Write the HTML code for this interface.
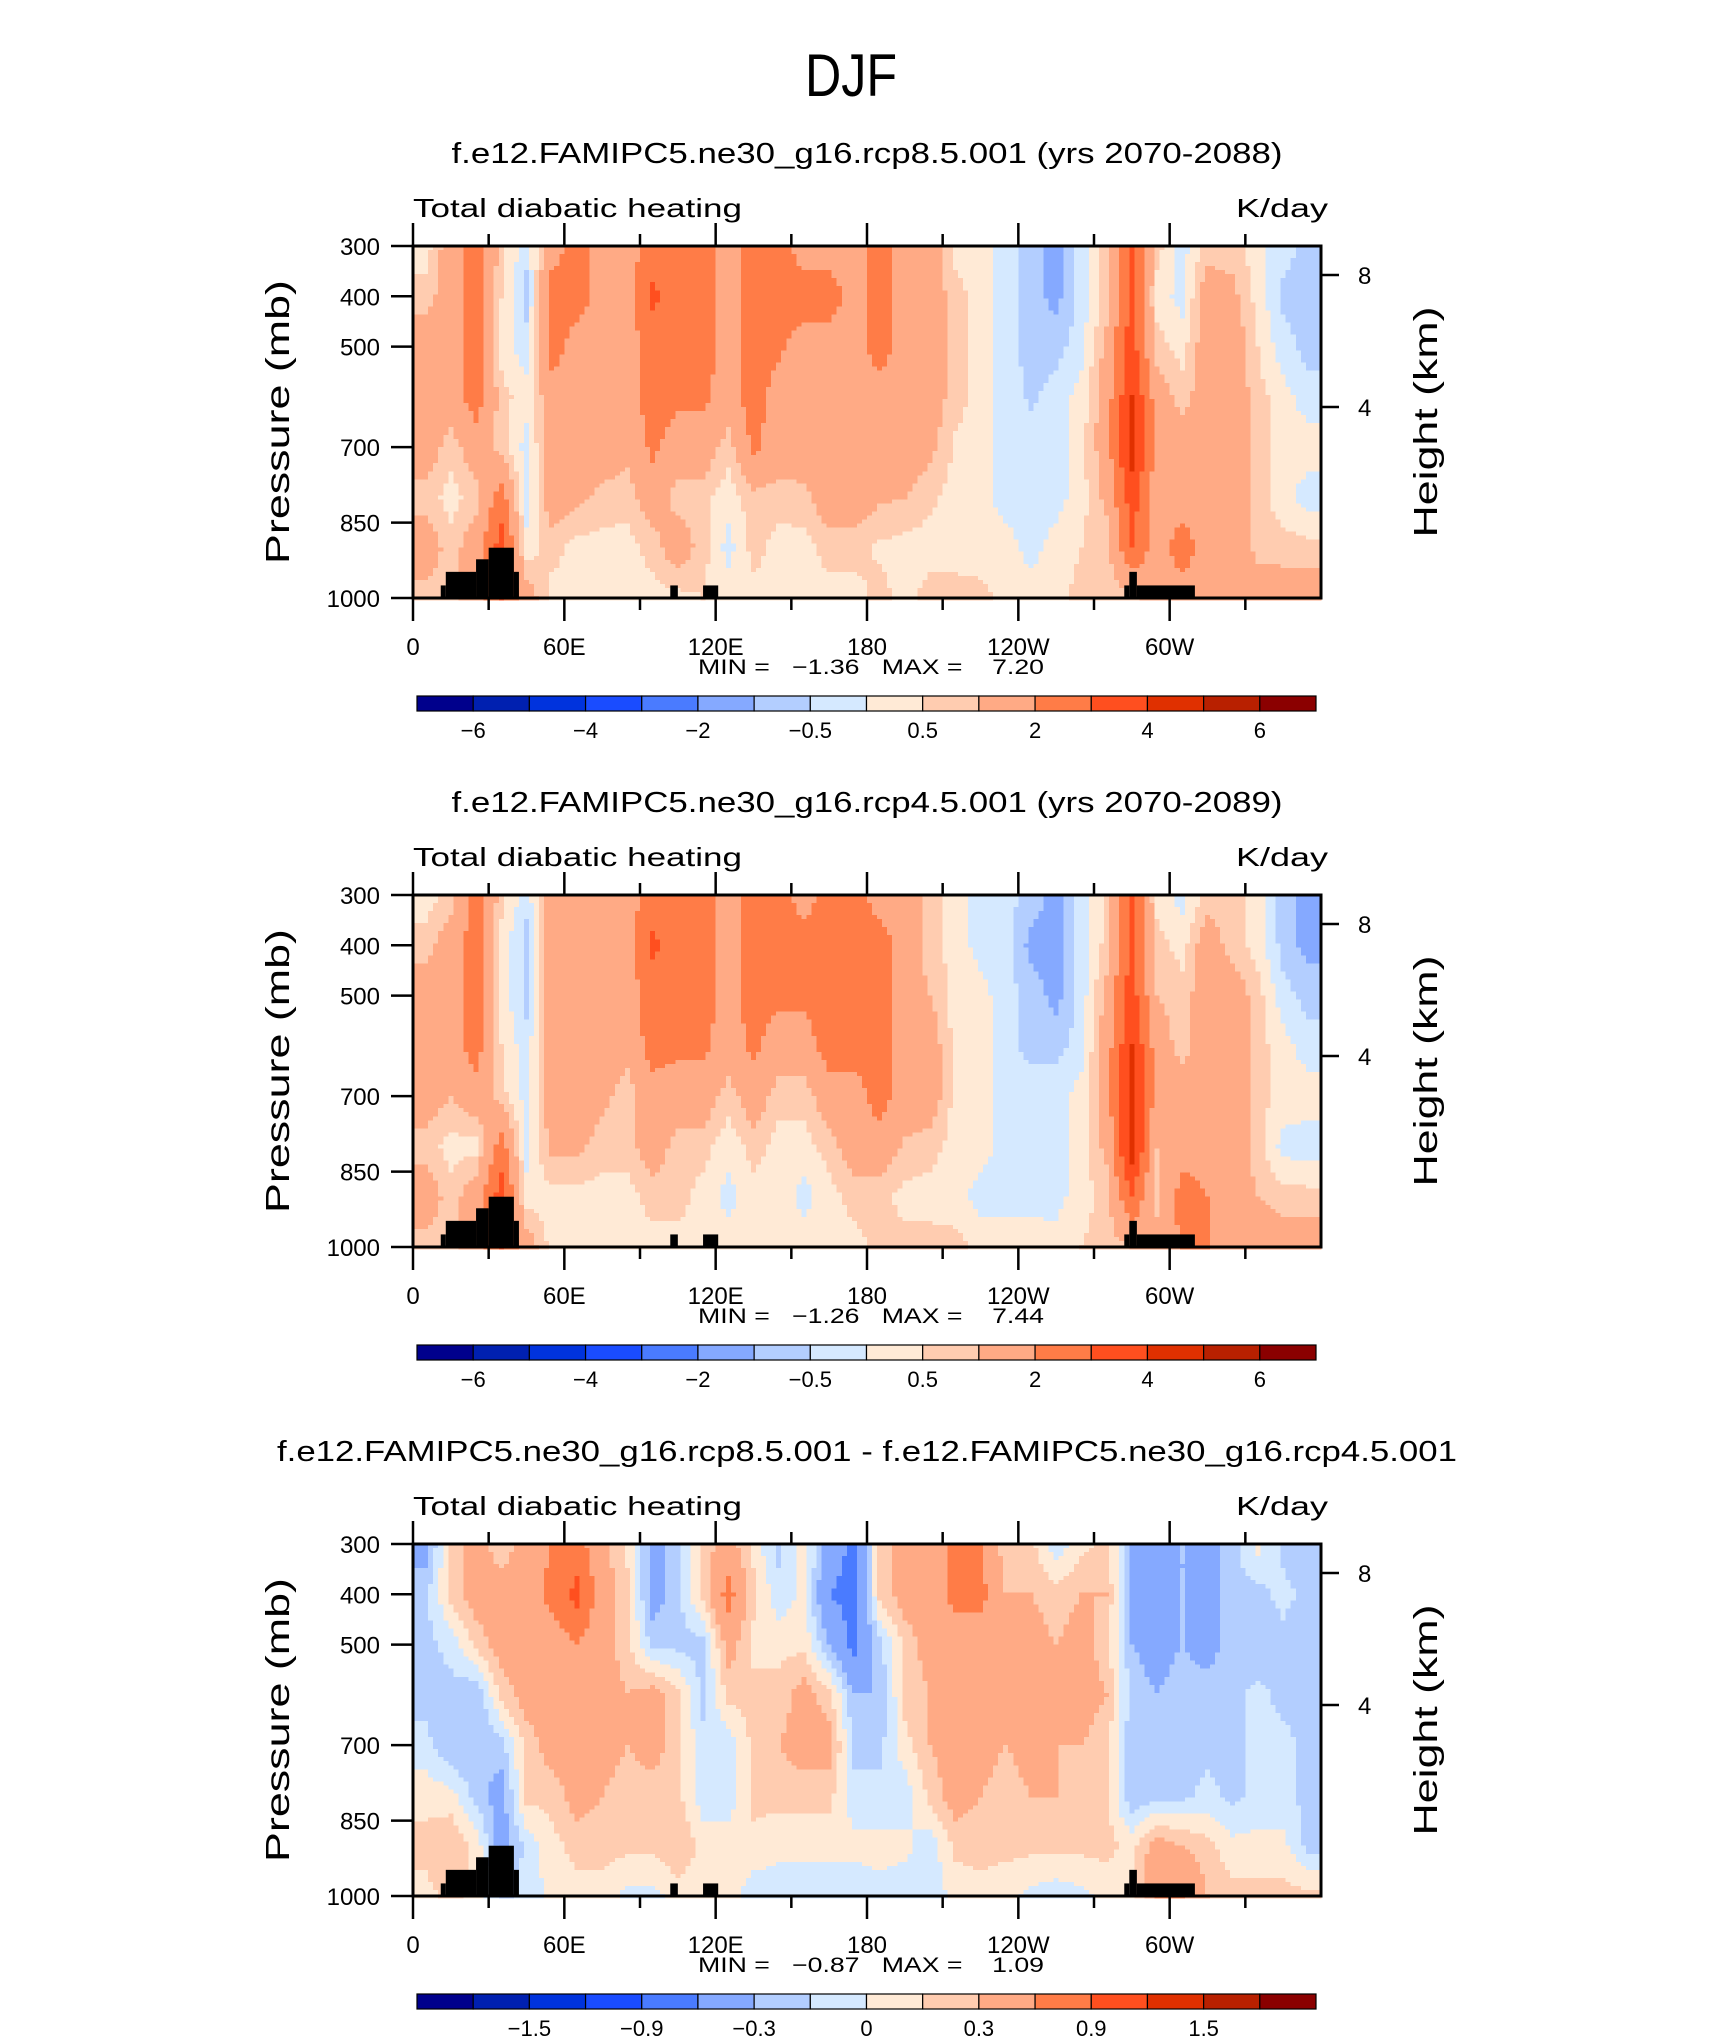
<!DOCTYPE html>
<html><head><meta charset="utf-8"><style>
html,body{margin:0;padding:0;background:#fff;}
svg{display:block;font-family:"Liberation Sans",sans-serif;}
.pre{white-space:pre;}
</style></head><body>
<svg id="fig" width="1710" height="2038" viewBox="0 0 1710 2038" xmlns="http://www.w3.org/2000/svg">
<rect x="0" y="0" width="1710" height="2038" fill="#fff"/>
<text x="851" y="96" text-anchor="middle" font-size="60" textLength="92" lengthAdjust="spacingAndGlyphs">DJF</text>
</svg>
<script>
const lonNodes=[5,15,25,35,45,55,65,75,85,95,105,115,125,135,145,155,165,175,185,195,205,215,225,235,245,255,265,275,285,295,305,315,325,335,345,355];
const presNodes=[300,400,500,600,700,800,900,1000];
const lonTicks=[0,60,120,180,240,300];
const lonTickLabels=['0','60E','120E','180','120W','60W'];
const presTicks=[300,400,500,700,850,1000];
const heightTicks=[8,4];
const levels1=[-6,-5,-4,-3,-2,-1,-0.5,0,0.5,1,2,3,4,5,6];
const levels3=[-1.8,-1.5,-1.2,-0.9,-0.6,-0.3,-0.15,0,0.15,0.3,0.6,0.9,1.2,1.5,1.8];
const cbLabels1=['−6','−4','−2','−0.5','0.5','2','4','6'];
const cbLabelIdx1=[0,2,4,6,8,10,12,14];
const cbLabels3=['−1.5','−0.9','−0.3','0','0.3','0.9','1.5'];
const cbLabelIdx3=[1,3,5,7,9,11,13];
const mountains=[[11,13,975],[13,25,948],[25,30,923],[30,40,900],[40,42,948],[102,105,975],[115,121,975],[282,284,975],[284,287,948],[287,310,975]];
const heat85=[
[0.2,0.7,1.5,1.5,1.5,0.7,1.5,0.7],[1.5,1.5,1.5,1.5,0.7,0.3,0.7,0.7],[2.5,2.5,2.5,2.5,1.5,0.7,1.5,1.5],[0.7,0.5,0.3,0.7,0.7,2.5,3.5,3],
[-0.3,-0.7,-0.3,0.2,-0.2,-0.3,0.2,1.5],[1.5,2.5,2.5,1.5,1.5,1.5,0.7,0.3],[2.5,2.5,1.5,1.5,1.5,1.2,0.3,0.3],[1.5,1.5,1.5,1.5,1.5,0.8,0.3,0.3],
[1.5,1.5,1.5,1.5,1.2,0.7,0.3,0.3],[2.5,3.2,2.5,2.5,2.2,1.5,0.7,0.3],[2.5,2.5,2.5,2.2,1.5,0.7,1.5,0.3],[2.5,2.5,2.5,2.2,1.5,0.7,0.7,0.5],
[1.5,1.5,1.5,1.5,0.7,0.2,-0.2,0.3],[2.5,2.5,2.5,2.5,2.2,0.8,0.7,0.3],[2.5,2.5,2.2,1.5,1.5,0.7,0.3,0.3],[1.5,2.5,1.5,1.5,1.5,0.8,0.3,0.3],
[1.5,2.5,1.5,1.5,1.5,1.5,0.7,0.3],[1.5,1.5,1.5,1.5,1.5,1.5,0.7,0.3],[2.5,2.5,2.5,1.5,1.5,1.1,0.4,0.7],[1.5,1.5,1.5,1.5,1.5,1.0,0.3,0.3],
[1.5,1.5,1.5,1.5,1.2,0.6,0.3,0.7],[0.3,0.7,0.7,0.7,0.4,0.3,0.3,0.7],[0.2,0.3,0.3,0.3,0.3,0.2,0.2,0.7],[-0.3,-0.3,-0.3,-0.2,-0.2,-0.2,0.2,0.3],
[-0.7,-0.7,-0.7,-0.6,-0.2,-0.2,-0.2,0.3],[-1.2,-1.2,-0.7,-0.3,-0.2,-0.2,0.2,0.3],[-0.3,-0.3,-0.2,0.2,0.3,0.3,0.5,0.7],[0.7,0.7,1.2,1.5,1.5,1.2,0.7,0.7],
[3.5,3.5,3.5,4.0,4.5,3.5,3.0,0.7],[0.7,0.3,0.7,1.5,1.5,1.5,1.5,1.5],[-0.2,-0.2,0.3,0.7,1.5,1.5,2.5,1.5],[0.7,1.5,1.5,1.5,1.5,1.5,1.5,1.5],
[0.7,1.2,1.5,1.5,1.5,1.5,1.5,1.2],[0.2,0.3,0.5,0.7,0.7,0.7,0.8,1.5],[-0.3,-0.6,-0.3,0.2,0.3,0.2,0.7,1.5],[-0.7,-0.7,-0.7,-0.3,0.3,-0.3,0.7,1.5]];
const heat45=[
[0.2,0.7,1.5,1.5,1.5,0.7,1.5,0.7],[0.7,1.5,1.5,1.5,1.0,0.3,0.7,0.7],[2.5,2.5,2.5,2.5,1.5,0.3,1.5,1.5],[0.7,0.3,0.3,0.5,0.7,2.5,3.5,3],
[-0.3,-0.7,-0.7,-0.3,-0.2,-0.2,0.2,1.5],[1.5,1.5,1.5,1.5,1.5,1.2,0.3,0.3],[1.5,1.5,1.5,1.5,1.5,1.2,0.3,0.3],[1.5,1.5,1.5,1.5,1.2,0.7,0.3,0.3],
[1.5,1.5,1.5,1.2,0.7,0.7,0.3,0.3],[2.5,3.2,2.5,2.5,1.5,1.5,0.7,0.3],[2.5,2.5,2.5,2.2,1.5,0.7,0.7,0.3],[2.5,2.5,2.5,2.2,1.5,0.7,0.3,0.3],
[1.5,1.5,1.5,1.5,0.7,0.2,-0.2,0.3],[2.5,2.5,2.5,2.2,1.5,0.7,0.3,0.3],[2.5,2.5,2.2,1.5,0.7,0.3,0.3,0.3],[1.5,2.5,2.2,1.5,0.7,0.3,-0.2,0.3],
[2.5,2.5,2.5,2.5,1.5,0.7,0.3,0.3],[2.5,2.5,2.5,2.5,1.5,1.5,0.7,0.3],[1.5,2.5,2.5,2.5,2.5,1.5,0.7,0.7],[1.5,1.5,1.5,1.5,1.5,0.9,0.3,0.7],
[0.7,0.7,1.0,1.5,1.5,0.7,0.3,0.7],[0.3,0.3,0.3,0.3,0.3,0.3,0.2,0.7],[-0.2,-0.2,0.2,0.3,0.3,0.2,-0.2,0.3],[-0.3,-0.3,-0.3,-0.3,-0.2,-0.2,-0.2,0.3],
[-0.7,-1.2,-0.7,-0.7,-0.2,-0.2,-0.2,0.3],[-1.2,-1.2,-1.2,-0.7,-0.2,-0.2,-0.2,0.2],[-0.3,-0.3,-0.3,-0.2,0.2,0.2,0.3,0.5],[0.5,0.7,1.2,1.5,1.5,1.2,0.7,0.7],
[3.5,3.5,3.5,4,4.5,4.5,3,1],[0.3,0.7,1.0,1.5,1.5,1.0,0.7,1.5],[-0.2,0.3,0.7,0.7,1.5,1.5,2.5,2],[0.7,1.5,1.5,1.5,1.5,1.5,2.0,2],
[0.7,0.7,1.5,1.5,1.5,1.5,1.5,1.5],[0.2,0.3,0.7,0.7,0.7,0.7,1.0,1.5],[-0.7,-0.7,-0.3,0.2,0.3,-0.2,0.7,1.5],[-1.2,-1.2,-0.7,-0.3,0.3,-0.3,0.7,1.5]];
const heatDiff=[
[-0.4,-0.2,-0.2,-0.2,-0.1,0.1,0.2,0.1],[0.2,0.2,-0.1,-0.2,-0.3,0.05,0.3,0.2],[0.4,0.4,0.2,-0.3,-0.3,-0.2,0.1,0.1],[0.2,0.4,0.4,0.2,-0.2,-0.4,-0.4,-0.2],
[0.4,0.4,0.4,0.4,0.2,0.2,-0.1,-0.1],[0.6,0.7,0.4,0.4,0.4,0.2,0.1,0.05],[0.7,1.0,0.6,0.4,0.4,0.4,0.2,0.1],[0.4,0.4,0.4,0.4,0.4,0.3,0.2,0.1],
[0.1,0.2,0.2,0.3,0.3,0.2,0.2,-0.05],[-0.4,-0.4,-0.2,0.4,0.4,0.2,0.2,-0.05],[-0.2,-0.2,-0.2,0.2,0.2,0.2,0.3,0.05],[0.2,0.2,-0.2,-0.2,-0.1,-0.1,0.1,0.05],
[0.4,0.7,0.4,0.2,-0.1,-0.1,0.1,0.1],[0.1,0.2,0.1,0.2,0.2,0.2,0.1,-0.1],[-0.2,-0.1,0.1,0.2,0.3,0.2,0.05,-0.1],[0.1,0.05,0.1,0.4,0.4,0.2,0.05,-0.1],
[-0.4,-0.6,-0.3,0.2,0.4,0.2,0.05,-0.1],[-0.7,-0.7,-0.7,-0.3,-0.2,-0.1,0.05,-0.1],[0.2,0.2,-0.2,-0.3,-0.2,-0.1,0.05,-0.05],[0.4,0.4,0.2,0.2,0.1,-0.1,0.05,-0.1],
[0.4,0.4,0.4,0.3,0.3,0.2,-0.1,-0.1],[0.7,0.7,0.4,0.4,0.4,0.4,0.2,0.05],[0.6,0.7,0.4,0.4,0.4,0.3,0.2,0.1],[0.2,0.3,0.4,0.4,0.3,0.2,0.2,0.05],
[0.2,0.3,0.4,0.4,0.4,0.3,0.2,-0.05],[-0.1,0.2,0.3,0.3,0.3,0.3,0.2,-0.1],[0.1,0.3,0.4,0.4,0.3,0.2,0.2,-0.05],[0.2,0.3,0.2,0.3,0.2,0.2,0.2,0.05],
[-0.3,-0.4,-0.3,-0.2,-0.3,-0.3,0.1,0.1],[-0.4,-0.6,-0.4,-0.3,-0.3,-0.2,0.4,0.6],[-0.3,-0.3,-0.3,-0.2,-0.2,-0.2,0.3,0.6],[-0.4,-0.4,-0.4,-0.2,-0.2,-0.1,0.2,0.3],
[-0.2,-0.2,-0.2,-0.2,-0.2,-0.2,0.05,0.2],[0.05,-0.2,-0.3,-0.1,-0.1,-0.1,0.05,0.2],[-0.2,-0.1,-0.2,-0.2,-0.1,-0.1,0.05,0.2],[-0.3,-0.2,-0.3,-0.2,-0.2,-0.2,-0.2,0.2]];
const palette=['#00008c','#0020b0','#0033dd','#1a4cff','#4a7bff','#85a9ff','#b3ceff','#d5e9ff','#ffead6','#ffccb0','#ffaa85','#ff7c47','#ff4f1f','#e03000','#b82000','#8b0000'];

const NS='http://www.w3.org/2000/svg';
const svg=document.getElementById('fig');
const X0=413,X1=1321,W=X1-X0,H=352;
function mk(tag,attrs,parent){const e=document.createElementNS(NS,tag);for(const k in attrs)e.setAttribute(k,attrs[k]);(parent||svg).appendChild(e);return e;}
function xOf(lon){return X0+lon/360*W;}
function yOf(T,p){return T+(p-300)/700*H;}
function sample(field,lon,p){
  let li=(lon-5)/10; li=Math.max(0,Math.min(lonNodes.length-1,li));
  let pi=(p-300)/100; pi=Math.max(0,Math.min(presNodes.length-1,pi));
  const i0=Math.min(Math.floor(li),lonNodes.length-2),j0=Math.min(Math.floor(pi),presNodes.length-2);
  const fx=li-i0,fy=pi-j0;
  const a=field[i0][j0],b=field[i0+1][j0],c=field[i0][j0+1],d=field[i0+1][j0+1];
  return a*(1-fx)*(1-fy)+b*fx*(1-fy)+c*(1-fx)*fy+d*fx*fy;
}
function colorIdx(v,levels){let k=0;while(k<levels.length&&v>=levels[k])k++;return k;}

function panel(T,field,levels,cbLabels,cbIdx,title,titleLen,minmax,key){
  const g=mk('g',{});
  
  
  const t=mk('text',{x:867,y:T-83,'text-anchor':'middle','font-size':29,textLength:titleLen,lengthAdjust:'spacingAndGlyphs'},g);
  
  
  t.textContent=title;
  const lt=mk('text',{x:413,y:T-29,'font-size':26,textLength:329,lengthAdjust:'spacingAndGlyphs'},g);
  
  
  lt.textContent='Total diabatic heating';
  const rt=mk('text',{x:1328,y:T-29,'font-size':26,'text-anchor':'end',textLength:92,lengthAdjust:'spacingAndGlyphs'},g);
  
  
  rt.textContent='K/day';
  const cg=mk('g',{'shape-rendering':'crispEdges'},g);
  
  
  const dl=2,dp=8;
  for(let p=300;p<1000;p+=dp){
    let runStart=0,runCol=-1;
    for(let lon=0;lon<=360;lon+=dl){
      let ci=-1;
      if(lon<360){ci=colorIdx(sample(field,lon+dl/2,p+dp/2),levels);}
      if(ci!==runCol){
        if(runCol>=0){
          const r=mk('rect',{x:xOf(runStart).toFixed(2),y:yOf(T,p).toFixed(2),width:(xOf(lon)-xOf(runStart)+0.6).toFixed(2),height:(dp/700*H+0.6).toFixed(2),fill:palette[runCol]},cg);
          
          
        }
        runStart=lon;runCol=ci;
      }
    }
  }
  mountains.forEach(m=>{
    const r=mk('rect',{x:xOf(m[0]),y:yOf(T,m[2]),width:xOf(m[1])-xOf(m[0]),height:yOf(T,1000)-yOf(T,m[2]),fill:'#000'},g);
    
    
  });
  const box=mk('rect',{x:X0,y:T,width:W,height:H,fill:'none',stroke:'#000','stroke-width':3},g);
  
  
  for(let lon=0;lon<360;lon+=30){
    const major=lon%60===0,x=xOf(lon),len=major?23:12;
    const a=mk('line',{x1:x,x2:x,y1:T,y2:T-len,stroke:'#000','stroke-width':2.5},g);
    
    
    const b=mk('line',{x1:x,x2:x,y1:T+H,y2:T+H+len,stroke:'#000','stroke-width':2.5},g);
    
    
  }
  lonTicks.forEach((lon,i)=>{
    const tx=mk('text',{x:xOf(lon),y:T+409,'text-anchor':'middle','font-size':24},g);
    
    
    tx.textContent=lonTickLabels[i];
  });
  presTicks.forEach(p=>{
    const y=yOf(T,p);
    const l=mk('line',{x1:X0,x2:X0-22,y1:y,y2:y,stroke:'#000','stroke-width':2.5},g);
    
    
    const tx=mk('text',{x:380,y:y+9,'text-anchor':'end','font-size':24},g);
    
    
    tx.textContent=String(p);
  });
  const hy=[29,161];
  heightTicks.forEach((h,i)=>{
    const y=T+hy[i];
    const l=mk('line',{x1:X1,x2:X1+18,y1:y,y2:y,stroke:'#000','stroke-width':2.5},g);
    
    
    const tx=mk('text',{x:1358,y:y+9,'font-size':24},g);
    
    
    tx.textContent=String(h);
  });
  const yl=mk('text',{x:0,y:0,'text-anchor':'middle','font-size':33,textLength:284,lengthAdjust:'spacingAndGlyphs',transform:`translate(289,${T+H/2}) rotate(-90)`},g);
  
  
  yl.textContent='Pressure  (mb)';
  const yr=mk('text',{x:0,y:0,'text-anchor':'middle','font-size':33,textLength:231,lengthAdjust:'spacingAndGlyphs',transform:`translate(1437,${T+H/2}) rotate(-90)`},g);
  
  
  yr.textContent='Height  (km)';
  const mm=mk('text',{x:871,y:T+428,'text-anchor':'middle','font-size':21,'class':'pre',textLength:346,lengthAdjust:'spacingAndGlyphs'},g);
  
  
  mm.textContent=minmax;
  const cx0=417,cx1=1316,bw=(cx1-cx0)/16,cy=T+450,ch=15;
  palette.forEach((c,i)=>{
    const r=mk('rect',{x:cx0+i*bw,y:cy,width:bw,height:ch,fill:c,stroke:'#000','stroke-width':1.2},g);
    
    
  });
  cbIdx.forEach((k,i)=>{
    const tx=mk('text',{x:cx0+(k+1)*bw,y:T+492,'text-anchor':'middle','font-size':22},g);
    
    
    tx.textContent=cbLabels[i];
  });
}
panel(246,heat85,levels1,cbLabels1,cbLabelIdx1,'f.e12.FAMIPC5.ne30_g16.rcp8.5.001 (yrs 2070-2088)',831,'MIN =   −1.36   MAX =    7.20','rcp85');
panel(895,heat45,levels1,cbLabels1,cbLabelIdx1,'f.e12.FAMIPC5.ne30_g16.rcp4.5.001 (yrs 2070-2089)',831,'MIN =   −1.26   MAX =    7.44','rcp45');
panel(1544,heatDiff,levels3,cbLabels3,cbLabelIdx3,'f.e12.FAMIPC5.ne30_g16.rcp8.5.001 - f.e12.FAMIPC5.ne30_g16.rcp4.5.001',1180,'MIN =   −0.87   MAX =    1.09','diff');
</script>
</body></html>
